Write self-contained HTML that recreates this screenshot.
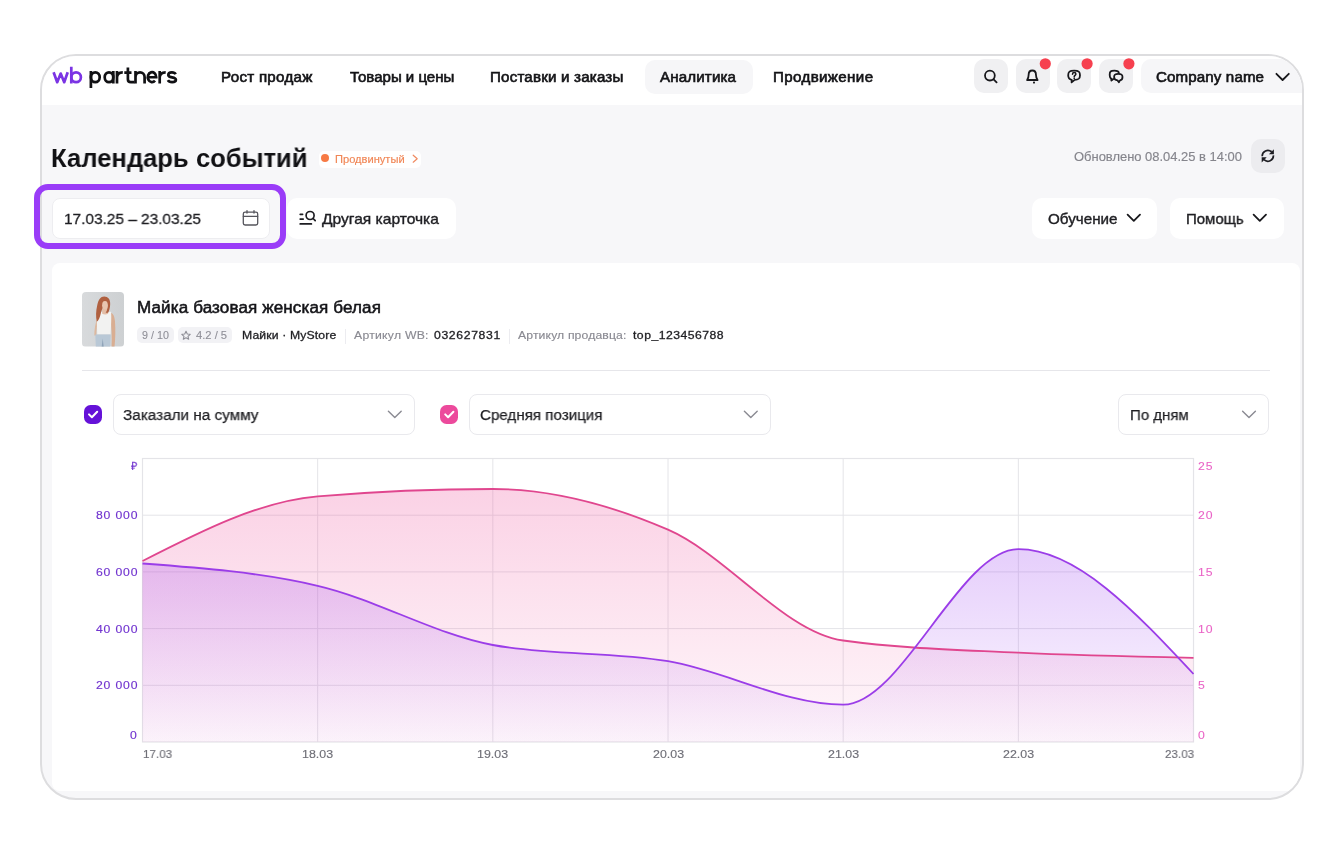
<!DOCTYPE html>
<html><head><meta charset="utf-8"><title>wb partners</title>
<style>
html,body{margin:0;padding:0;background:#fff;width:1344px;height:854px;overflow:hidden}
body{position:relative;font-family:"Liberation Sans",sans-serif}
.abs{position:absolute}
.t{position:absolute;white-space:nowrap;line-height:0;will-change:transform;transform-origin:0 0}
#frame{position:absolute;left:40px;top:54px;width:1264px;height:746px;box-sizing:border-box;border:2px solid #dddddf;border-radius:36px;overflow:hidden;background:#f7f7f9}
#inner{position:absolute;left:-42px;top:-56px;width:1344px;height:854px}
</style></head><body>
<div id="frame"><div id="inner">
<div class="abs" style="left:42px;top:56px;width:1262px;height:48.5px;background:#fff"></div><div class="abs" style="left:644.8px;top:59.6px;width:108.2px;height:34px;background:#f6f6f8;border-radius:10px"></div><div class="abs" style="left:974px;top:59.4px;width:34px;height:34px;background:#f0f0f2;border-radius:10px"></div><div class="abs" style="left:1015.6px;top:59.4px;width:34px;height:34px;background:#f0f0f2;border-radius:10px"></div><div class="abs" style="left:1057.2px;top:59.4px;width:34px;height:34px;background:#f0f0f2;border-radius:10px"></div><div class="abs" style="left:1098.8px;top:59.4px;width:34px;height:34px;background:#f0f0f2;border-radius:10px"></div><div class="abs" style="left:1141px;top:59.4px;width:200px;height:34px;background:#f6f6f8;border-radius:10px"></div><div class="abs" style="left:319px;top:151px;width:102px;height:17px;background:#fff;border-radius:5px"></div><div class="abs" style="left:321px;top:154.3px;width:8.2px;height:8.2px;background:#f77a45;border-radius:50%"></div><div class="abs" style="left:1251px;top:139px;width:34px;height:34px;background:#ececef;border-radius:10px"></div><div class="abs" style="left:52px;top:198px;width:218px;height:41px;box-sizing:border-box;background:#fff;border:1px solid #ededf0;border-radius:8px"></div><div class="abs" style="left:286.5px;top:198px;width:169.5px;height:41px;background:#fff;border-radius:10px"></div><div class="abs" style="left:1032px;top:198px;width:125px;height:41px;background:#fff;border-radius:10px"></div><div class="abs" style="left:1170px;top:198px;width:114px;height:41px;background:#fff;border-radius:10px"></div><div class="abs" style="left:52px;top:262.5px;width:1248px;height:528px;background:#fff;border-radius:8px"></div><div class="abs" style="left:136.5px;top:326.7px;width:37.5px;height:16.3px;background:#f2f2f5;border-radius:5px"></div><div class="abs" style="left:178.2px;top:326.7px;width:53.7px;height:16.3px;background:#f2f2f5;border-radius:5px"></div><div class="abs" style="left:345.2px;top:329px;width:1px;height:15px;background:#ececf0"></div><div class="abs" style="left:508.8px;top:329px;width:1px;height:15px;background:#ececf0"></div><div class="abs" style="left:82px;top:369.5px;width:1188px;height:1px;background:#e6e6ea"></div><div class="abs" style="left:84px;top:405px;width:18.3px;height:18.5px;background:#6512d8;border-radius:6.5px"></div><div class="abs" style="left:440.2px;top:405px;width:18.3px;height:18.5px;background:#ec4a9c;border-radius:6.5px"></div><div class="abs" style="left:112.5px;top:393.5px;width:302px;height:41.5px;box-sizing:border-box;border:1px solid #e9e9ed;border-radius:8px"></div><div class="abs" style="left:468.8px;top:393.5px;width:302px;height:41.5px;box-sizing:border-box;border:1px solid #e9e9ed;border-radius:8px"></div><div class="abs" style="left:1118.4px;top:393.5px;width:150.5px;height:41.5px;box-sizing:border-box;border:1px solid #e9e9ed;border-radius:8px"></div>
<svg class="abs" width="42.4" height="54.5" viewBox="0 0 43 55" preserveAspectRatio="none" style="left:81.8px;top:292px;border-radius:4px">
<defs><linearGradient id="bg" x1="0" y1="0" x2="1" y2="0"><stop offset="0" stop-color="#d8dadc"/><stop offset="1" stop-color="#cdd0d2"/></linearGradient>
<filter id="bl" x="-20%" y="-20%" width="140%" height="140%"><feGaussianBlur stdDeviation="0.45"/></filter></defs>
<rect width="43" height="55" fill="url(#bg)"/>
<g filter="url(#bl)">
<path d="M29.5,21 C31.5,22 33,24 33.5,30 C34,38 34,46 33,55 L30,55 C30.5,46 30,36 29,28Z" fill="#d9ae92"/>
<path d="M15,28 C13.5,32 12.5,38 12.5,44 L14.5,44 C14.5,38 15.5,33 16,30Z" fill="#ddb89e"/>
<path d="M15.5,20 C18,19 21,21 23,22 C25,21 27.5,19.5 29.5,20 C30,26 29.5,34 29,43 L15.5,43 C15,34 15,27 15.5,20Z" fill="#f2f2f1"/>
<path d="M13.5,43 L29,43 L28.5,55 L14,55Z" fill="#b9c8d6"/>
<path d="M20,55 L21,47 L22,55Z" fill="#8fa3b8"/>
<path d="M20.5,15 L26,15 L26.5,22 C25,23 22,23 20.5,22Z" fill="#e3bda6"/>
<path d="M22.5,4.5 C26.5,4.5 28.8,7.5 28.6,12 C28.5,16 27.5,19 26.5,21 L24,21 C26,18 26,15 25.5,12 C22,13 20,17 19,22 C18,26 17,29 15,30 C14,25 14,19 15.5,13 C16.5,8 19,4.5 22.5,4.5Z" fill="#b0603f"/>
<ellipse cx="23.3" cy="13.3" rx="2.9" ry="4.3" fill="#e8c6b0"/>
</g>
</svg>
<svg class="abs" width="1344" height="854" viewBox="0 0 1344 854" style="left:0;top:0" fill="none" stroke-width="2.7">
<g stroke="#7b34e4" stroke-linejoin="round">
<path d="M53.6,72.3 L57.2,82.2 L60.7,73.6 L64.2,82.2 L67.7,72.3"/>
<path d="M71.3,66.8 V83.4"/><ellipse cx="76.1" cy="77.25" rx="4.8" ry="4.95"/>
</g>
<g stroke="#111114">
<path d="M90.9,71.1 V88"/><ellipse cx="95.3" cy="77.25" rx="4.4" ry="4.95"/>
<ellipse cx="109" cy="77.25" rx="4.3" ry="4.95"/><path d="M113.3,71.1 V83.4"/>
<path d="M117,71.1 V83.4 M117,77.5 C117,74 119,72.3 122.8,72.3"/>
<path d="M127.9,67.6 V79.2 Q127.9,82.2 130.9,82.2 H134.5 M124.3,72.6 H131.5"/>
<path d="M135.5,71.1 V83.4 M135.5,77 A4.55,4.7 0 0 1 144.6,77 V83.4"/>
<path d="M147.8,77.25 H156.2 A4.2,4.95 0 1 0 155,80.6"/>
<path d="M159.7,71.1 V83.4 M159.7,77.5 C159.7,74 161.7,72.3 165.7,72.3"/>
<path d="M175.6,74.3 C175,72.9 173.6,72.3 171.9,72.3 C169.6,72.3 168.3,73.4 168.3,74.9 C168.3,78.4 175.9,76.3 175.9,79.8 C175.9,81.4 174.3,82.2 172.1,82.2 C170,82.2 168.6,81.5 167.9,80.2"/>
</g>
</svg>
<svg class="abs" width="1344" height="854" viewBox="0 0 1344 854" style="left:0;top:0" fill="none" stroke="#18181c" stroke-width="1.8" stroke-linecap="round" stroke-linejoin="round">
<circle cx="989.9" cy="75.6" r="4.9"/><path d="M993.6,79.3 L996.6,82.3"/>
<path d="M1027.1,80 H1037.6 C1036.5,78.7 1036,77.5 1036,75 C1036,72.2 1034.5,70.5 1032.3,70.5 C1030.1,70.5 1028.6,72.2 1028.6,75 C1028.6,77.5 1028.1,78.7 1027.1,80 Z"/>
<circle cx="1034" cy="82.6" r="1.05" fill="#18181c" stroke="none"/>
<path d="M1074.2,70.7 C1078.7,70.7 1080,71.7 1080,75.3 C1080,78.9 1078.7,79.8 1074.7,79.9 L1071.6,82.4 L1071.7,79.8 C1069.1,79.5 1068.2,78.4 1068.2,75.3 C1068.2,71.7 1069.6,70.7 1074.2,70.7 Z"/>
<path d="M1072.5,74.2 C1072.5,73.2 1073.2,72.6 1074.2,72.6 C1075.2,72.6 1075.9,73.2 1075.9,74.1 C1075.9,75.3 1074.3,75.5 1074.2,76.6" stroke-width="1.5"/>
<circle cx="1074.2" cy="78.2" r="0.85" fill="#18181c" stroke="none"/>
<path d="M1118.9,73.2 C1118.7,71.3 1117.5,70.7 1114.4,70.7 C1110.5,70.7 1109.7,71.6 1109.7,74.6 C1109.7,77.2 1110.2,78.1 1111.2,78.5 L1111.4,80.6 L1113.3,79"/>
<path d="M1118.2,73.8 C1121.6,73.8 1122.5,74.6 1122.5,77.1 C1122.5,79.5 1121.7,80.2 1120,80.4 L1118.9,82.2 L1117.5,80.4 C1115,80.3 1114.1,79.5 1114.1,77.1 C1114.1,74.6 1115,73.8 1118.2,73.8 Z"/>
<path d="M1276.4,73.8 L1282.6,80 L1288.8,73.8"/>
<path d="M1127.6,214.6 L1133.8,220.8 L1140,214.6"/>
<path d="M1253.6,214.6 L1259.8,220.8 L1266,214.6"/>
<g fill="#f6404f" stroke="none"><circle cx="1045.3" cy="63.8" r="5.6"/><circle cx="1087.1" cy="63.8" r="5.6"/><circle cx="1128.9" cy="63.8" r="5.6"/></g>
</svg>
<svg class="abs" width="1344" height="854" viewBox="0 0 1344 854" style="left:0;top:0" fill="none" stroke-linecap="round" stroke-linejoin="round">
<path d="M413.2,155.2 L417.2,158.7 L413.2,162.2" stroke="#f08a60" stroke-width="1.2"/>
<g stroke="#1d1d22" stroke-width="1.7" stroke-linecap="butt"><path d="M1262.2,156.2 A5.6,5.6 0 0 1 1271.6,151.9"/><path d="M1273.4,155.4 A5.6,5.6 0 0 1 1264,159.7"/></g><g fill="#1d1d22"><path d="M1273.9,149.2 L1273.9,154.3 L1268.9,154.3 Z"/><path d="M1261.7,162.4 L1261.7,157.3 L1266.7,157.3 Z"/></g>
<g stroke="#55555c" stroke-width="1.3"><rect x="243.3" y="212.2" width="14.4" height="12.8" rx="1.8"/><path d="M243.3,216.3 H257.7 M247,210.6 V213 M254,210.6 V213"/></g>
<g stroke="#1d1d22" stroke-width="1.7"><path d="M300.2,214.3 H302.6 M300.2,219.1 H303.2 M300.2,223.9 H311.4"/><circle cx="310.1" cy="215.5" r="4"/><path d="M313.1,218.5 L315.2,220.6"/></g>
<path d="M89,414.4 L91.9,417.3 L97.2,411.8" stroke="#fff" stroke-width="2"/>
<path d="M445.2,414.4 L448.1,417.3 L453.4,411.8" stroke="#fff" stroke-width="2"/>
<g stroke="#8a8a92" stroke-width="1.4"><path d="M388.4,411.2 L394.8,417.6 L401.2,411.2"/><path d="M744.4,411.2 L750.8,417.6 L757.2,411.2"/><path d="M1242.6,411.2 L1249,417.6 L1255.4,411.2"/></g>
<path d="M186,331.3 L187.3,334 L190.2,334.3 L188,336.3 L188.7,339.2 L186,337.7 L183.3,339.2 L184,336.3 L181.8,334.3 L184.7,334 Z" stroke="#8f8f97" stroke-width="1.1"/>
</svg>
<svg class="abs" width="1344" height="854" viewBox="0 0 1344 854" style="left:0;top:0">
<defs>
<linearGradient id="gp" x1="0" y1="489.0" x2="0" y2="742.0" gradientUnits="userSpaceOnUse"><stop offset="0" stop-color="#ee4a98" stop-opacity="0.25"/><stop offset="1" stop-color="#ee4a98" stop-opacity="0.04"/></linearGradient>
<linearGradient id="gu" x1="0" y1="549.2" x2="0" y2="742.0" gradientUnits="userSpaceOnUse"><stop offset="0" stop-color="#9d42f0" stop-opacity="0.26"/><stop offset="1" stop-color="#9d42f0" stop-opacity="0.03"/></linearGradient>
</defs>
<rect x="142.5" y="458.5" width="1051.02" height="283.5" fill="none" stroke="#e4e4e8" stroke-width="1.2"/>
<g stroke="#e4e4e8" stroke-width="1"><line x1="142.5" y1="685.30" x2="1193.52" y2="685.30"/><line x1="142.5" y1="628.60" x2="1193.52" y2="628.60"/><line x1="142.5" y1="571.90" x2="1193.52" y2="571.90"/><line x1="142.5" y1="515.20" x2="1193.52" y2="515.20"/><line x1="317.67" y1="458.5" x2="317.67" y2="742.0"/><line x1="492.84" y1="458.5" x2="492.84" y2="742.0"/><line x1="668.01" y1="458.5" x2="668.01" y2="742.0"/><line x1="843.18" y1="458.5" x2="843.18" y2="742.0"/><line x1="1018.35" y1="458.5" x2="1018.35" y2="742.0"/></g>
<path d="M142.50,561.00C200.89,531.17 259.28,501.33 317.67,496.40C376.06,491.47 434.45,489.00 492.84,489.00C551.23,489.00 609.62,504.45 668.01,529.70C726.40,554.95 784.79,632.37 843.18,640.50C901.57,648.63 959.96,649.82 1018.35,652.70C1076.74,655.58 1135.13,656.69 1193.52,657.80L1193.52,742.0L142.5,742.0Z" fill="url(#gp)"/>
<path d="M142.50,563.50C200.89,567.86 259.28,572.22 317.67,585.80C376.06,599.38 434.45,634.20 492.84,645.00C551.23,655.80 609.62,651.25 668.01,661.20C726.40,671.15 784.79,704.70 843.18,704.70C901.57,704.70 959.96,549.20 1018.35,549.20C1076.74,549.20 1135.13,611.60 1193.52,674.00L1193.52,742.0L142.5,742.0Z" fill="url(#gu)"/>
<path d="M142.50,561.00C200.89,531.17 259.28,501.33 317.67,496.40C376.06,491.47 434.45,489.00 492.84,489.00C551.23,489.00 609.62,504.45 668.01,529.70C726.40,554.95 784.79,632.37 843.18,640.50C901.57,648.63 959.96,649.82 1018.35,652.70C1076.74,655.58 1135.13,656.69 1193.52,657.80" fill="none" stroke="#e0468e" stroke-width="1.8"/>
<path d="M142.50,563.50C200.89,567.86 259.28,572.22 317.67,585.80C376.06,599.38 434.45,634.20 492.84,645.00C551.23,655.80 609.62,651.25 668.01,661.20C726.40,671.15 784.79,704.70 843.18,704.70C901.57,704.70 959.96,549.20 1018.35,549.20C1076.74,549.20 1135.13,611.60 1193.52,674.00" fill="none" stroke="#9b3de8" stroke-width="1.8"/>
</svg>
<div class="t" style="left:221.20px;top:77.15px;font-size:14px;letter-spacing:0.254px;color:#141417;-webkit-text-stroke:0.6px #141417;transform:scaleX(1.0800);">Рост продаж</div><div class="t" style="left:349.70px;top:77.15px;font-size:14px;letter-spacing:-0.000px;color:#141417;-webkit-text-stroke:0.6px #141417;transform:scaleX(1.0730);">Товары и цены</div><div class="t" style="left:490.40px;top:77.15px;font-size:14px;letter-spacing:0.177px;color:#141417;-webkit-text-stroke:0.6px #141417;transform:scaleX(1.0800);">Поставки и заказы</div><div class="t" style="left:660.20px;top:77.15px;font-size:14px;letter-spacing:0.134px;color:#141417;-webkit-text-stroke:0.6px #141417;transform:scaleX(1.0800);">Аналитика</div><div class="t" style="left:772.60px;top:77.15px;font-size:14px;letter-spacing:0.339px;color:#141417;-webkit-text-stroke:0.6px #141417;transform:scaleX(1.0800);">Продвижение</div><div class="t" style="left:1156.00px;top:76.75px;font-size:14px;letter-spacing:0.109px;color:#141417;-webkit-text-stroke:0.6px #141417;transform:scaleX(1.0800);">Company name</div><div class="t" style="left:51.20px;top:158.26px;font-size:25.8px;letter-spacing:0.000px;color:#111114;font-weight:700;transform:scaleX(0.9930);">Календарь событий</div><div class="t" style="left:335.00px;top:158.76px;font-size:10.5px;letter-spacing:0.000px;color:#f08656;-webkit-text-stroke:0.15px #f08656;transform:scaleX(1.0578);">Продвинутый</div><div class="t" style="left:1073.80px;top:156.54px;font-size:12.3px;letter-spacing:0.000px;color:#85858c;-webkit-text-stroke:0.15px #85858c;transform:scaleX(1.0526);">Обновлено 08.04.25 в 14:00</div><div class="t" style="left:63.50px;top:218.63px;font-size:15.5px;letter-spacing:0.000px;color:#1f1f23;-webkit-text-stroke:0.3px #1f1f23;transform:scaleX(0.9935);">17.03.25 – 23.03.25</div><div class="t" style="left:322.40px;top:218.80px;font-size:15px;letter-spacing:0.000px;color:#1f1f23;-webkit-text-stroke:0.4px #1f1f23;transform:scaleX(1.0382);">Другая карточка</div><div class="t" style="left:1047.50px;top:219.00px;font-size:15px;letter-spacing:0.000px;color:#1f1f23;-webkit-text-stroke:0.4px #1f1f23;transform:scaleX(1.0131);">Обучение</div><div class="t" style="left:1185.60px;top:219.00px;font-size:15px;letter-spacing:0.000px;color:#1f1f23;-webkit-text-stroke:0.4px #1f1f23;transform:scaleX(0.9965);">Помощь</div><div class="t" style="left:136.50px;top:308.23px;font-size:15.8px;letter-spacing:0.105px;color:#141418;-webkit-text-stroke:0.5px #141418;transform:scaleX(1.0800);">Майка базовая женская белая</div><div class="t" style="left:141.50px;top:335.36px;font-size:10.5px;letter-spacing:0.000px;color:#8f8f97;-webkit-text-stroke:0.1px #8f8f97;transform:scaleX(1.0228);">9 / 10</div><div class="t" style="left:195.90px;top:335.36px;font-size:10.5px;letter-spacing:-0.000px;color:#8f8f97;-webkit-text-stroke:0.1px #8f8f97;transform:scaleX(1.0651);">4.2 / 5</div><div class="t" style="left:241.80px;top:335.18px;font-size:11.3px;letter-spacing:0.123px;color:#1f1f23;-webkit-text-stroke:0.3px #1f1f23;transform:scaleX(1.0800);">Майки · MyStore</div><div class="t" style="left:354.00px;top:335.18px;font-size:11.3px;letter-spacing:0.238px;color:#8a8a92;-webkit-text-stroke:0.15px #8a8a92;transform:scaleX(1.0800);">Артикул WB:</div><div class="t" style="left:433.50px;top:335.18px;font-size:11.3px;letter-spacing:0.599px;color:#1f1f23;-webkit-text-stroke:0.3px #1f1f23;transform:scaleX(1.0800);">032627831</div><div class="t" style="left:517.60px;top:335.18px;font-size:11.3px;letter-spacing:0.117px;color:#8a8a92;-webkit-text-stroke:0.15px #8a8a92;transform:scaleX(1.0800);">Артикул продавца:</div><div class="t" style="left:633.00px;top:335.18px;font-size:11.3px;letter-spacing:0.441px;color:#1f1f23;-webkit-text-stroke:0.3px #1f1f23;transform:scaleX(1.0800);">top_123456788</div><div class="t" style="left:123.20px;top:415.33px;font-size:15.5px;letter-spacing:0.000px;color:#1f1f23;-webkit-text-stroke:0.25px #1f1f23;transform:scaleX(0.9869);">Заказали на сумму</div><div class="t" style="left:480.40px;top:415.33px;font-size:15.5px;letter-spacing:0.000px;color:#1f1f23;-webkit-text-stroke:0.25px #1f1f23;transform:scaleX(0.9769);">Средняя позиция</div><div class="t" style="left:1130.00px;top:414.63px;font-size:15.5px;letter-spacing:0.000px;color:#1f1f23;-webkit-text-stroke:0.25px #1f1f23;transform:scaleX(0.9679);">По дням</div><div class="t" style="left:131.20px;top:466.08px;font-size:11.3px;letter-spacing:0.000px;color:#7134cf;-webkit-text-stroke:0.15px #7134cf;transform:scaleX(0.9500);">₽</div><div class="t" style="left:96.28px;top:515.28px;font-size:11.3px;letter-spacing:0.769px;color:#7134cf;-webkit-text-stroke:0.15px #7134cf;transform:scaleX(1.0800);">80 000</div><div class="t" style="left:96.28px;top:571.98px;font-size:11.3px;letter-spacing:0.769px;color:#7134cf;-webkit-text-stroke:0.15px #7134cf;transform:scaleX(1.0800);">60 000</div><div class="t" style="left:96.28px;top:628.68px;font-size:11.3px;letter-spacing:0.769px;color:#7134cf;-webkit-text-stroke:0.15px #7134cf;transform:scaleX(1.0800);">40 000</div><div class="t" style="left:96.28px;top:685.38px;font-size:11.3px;letter-spacing:0.769px;color:#7134cf;-webkit-text-stroke:0.15px #7134cf;transform:scaleX(1.0800);">20 000</div><div class="t" style="left:130.24px;top:735.28px;font-size:11.3px;letter-spacing:0.000px;color:#7134cf;-webkit-text-stroke:0.15px #7134cf;transform:scaleX(1.0800);">0</div><div class="t" style="left:1198.00px;top:466.08px;font-size:11.3px;letter-spacing:0.817px;color:#e964c6;-webkit-text-stroke:0.1px #e964c6;transform:scaleX(1.0800);">25</div><div class="t" style="left:1198.00px;top:515.28px;font-size:11.3px;letter-spacing:0.817px;color:#e964c6;-webkit-text-stroke:0.1px #e964c6;transform:scaleX(1.0800);">20</div><div class="t" style="left:1198.00px;top:571.98px;font-size:11.3px;letter-spacing:0.817px;color:#e964c6;-webkit-text-stroke:0.1px #e964c6;transform:scaleX(1.0800);">15</div><div class="t" style="left:1198.00px;top:628.68px;font-size:11.3px;letter-spacing:0.817px;color:#e964c6;-webkit-text-stroke:0.1px #e964c6;transform:scaleX(1.0800);">10</div><div class="t" style="left:1198.00px;top:685.38px;font-size:11.3px;letter-spacing:0.000px;color:#e964c6;-webkit-text-stroke:0.1px #e964c6;transform:scaleX(1.0800);">5</div><div class="t" style="left:1198.00px;top:734.58px;font-size:11.3px;letter-spacing:0.000px;color:#e964c6;-webkit-text-stroke:0.1px #e964c6;transform:scaleX(1.0800);">0</div><div class="t" style="left:143.00px;top:754.41px;font-size:11.8px;letter-spacing:0.000px;color:#6f6f77;-webkit-text-stroke:0.15px #6f6f77;transform:scaleX(0.9831);">17.03</div><div class="t" style="left:302.17px;top:754.41px;font-size:11.8px;letter-spacing:-0.000px;color:#6f6f77;-webkit-text-stroke:0.15px #6f6f77;transform:scaleX(1.0508);">18.03</div><div class="t" style="left:477.34px;top:754.41px;font-size:11.8px;letter-spacing:-0.000px;color:#6f6f77;-webkit-text-stroke:0.15px #6f6f77;transform:scaleX(1.0508);">19.03</div><div class="t" style="left:652.51px;top:754.41px;font-size:11.8px;letter-spacing:-0.000px;color:#6f6f77;-webkit-text-stroke:0.15px #6f6f77;transform:scaleX(1.0508);">20.03</div><div class="t" style="left:827.68px;top:754.41px;font-size:11.8px;letter-spacing:-0.000px;color:#6f6f77;-webkit-text-stroke:0.15px #6f6f77;transform:scaleX(1.0508);">21.03</div><div class="t" style="left:1002.85px;top:754.41px;font-size:11.8px;letter-spacing:-0.000px;color:#6f6f77;-webkit-text-stroke:0.15px #6f6f77;transform:scaleX(1.0508);">22.03</div><div class="t" style="left:1164.50px;top:754.41px;font-size:11.8px;letter-spacing:0.000px;color:#6f6f77;-webkit-text-stroke:0.15px #6f6f77;transform:scaleX(0.9831);">23.03</div>
</div></div>
<div class="abs" style="left:34px;top:184px;width:252px;height:65px;box-sizing:border-box;border:6px solid #9a3cf8;border-radius:14px"></div>
</body></html>
